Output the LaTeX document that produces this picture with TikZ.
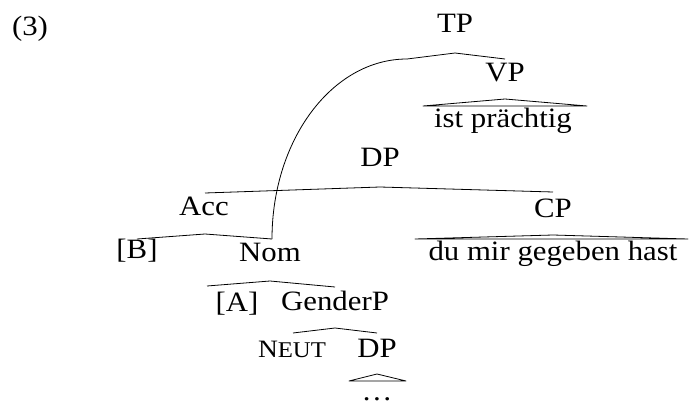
\documentclass[tikz,border=0pt]{standalone}
\usepackage{fontspec}
\setmainfont[FakeStretch=1.1]{Liberation Serif}
\begin{document}
\begin{tikzpicture}[x=1pt,y=-1pt,
  lbl/.style={anchor=base,inner sep=0pt,font=\fontsize{28}{32}\selectfont},
  branch/.style={line width=0.8pt,line join=round},
  roof/.style={line width=0.8pt,line join=round},
]
\useasboundingbox (0,0) rectangle (689,404);

% labels
\node[lbl] (ex)    at (30,36)   {(3)};
\node[lbl] (tp)    at (455,33)  {TP};
\node[lbl] (vp)    at (505,82)  {VP};
\node[lbl] (vpt)   at (503,128) {ist prächtig};
\node[lbl] (dp)    at (380,167) {DP};
\node[lbl] (acc)   at (204,215) {Acc};
\node[lbl] (cp)    at (553,217) {CP};
\node[lbl] (cpt)   at (553,260) {du mir gegeben hast};
\node[lbl] (b)     at (137,258) {[B]};
\node[lbl] (nom)   at (270,261) {Nom};
\node[lbl] (a)     at (237,311) {[A]};
\node[lbl] (gen)   at (335,310) {GenderP};
\node[lbl] (neut)  at (292,357) {{\fontsize{25}{30}\selectfont N}{\fontsize{22.5}{27}\selectfont EUT}};
\node[lbl] (dp2)   at (377,357) {DP};
\node[lbl] (dots)  at (377,400) {…};

% branch points
\coordinate (tp-a)  at (455,53);
\coordinate (tp-l)  at (407,59);
\coordinate (tp-r)  at (505,59);
\coordinate (dp-a)  at (380,187);
\coordinate (dp-l)  at (205,193);
\coordinate (dp-r)  at (553,192);
\coordinate (acc-a) at (205,234);
\coordinate (acc-l) at (137,239);
\coordinate (acc-r) at (272,239);
\coordinate (nom-a) at (270,281);
\coordinate (nom-l) at (207,286);
\coordinate (nom-r) at (335,287);
\coordinate (gen-a) at (335,328);
\coordinate (gen-l) at (293,333);
\coordinate (gen-r) at (377,333);

% roof corners
\coordinate (vp-a)  at (505,99);
\coordinate (vp-l)  at (423,106);
\coordinate (vp-r)  at (587,106);
\coordinate (cp-a)  at (553,235);
\coordinate (cp-l)  at (415,239);
\coordinate (cp-r)  at (688,239);
\coordinate (dp2-a) at (377,374);
\coordinate (dp2-l) at (349,381);
\coordinate (dp2-r) at (406,381);

% branches
\draw[branch] (tp-l) -- (tp-a) -- (tp-r);
\draw[branch] (dp-l) -- (dp-a) -- (dp-r);
\draw[branch] (acc-l) -- (acc-a) -- (acc-r);
\draw[branch] (nom-l) -- (nom-a) -- (nom-r);
\draw[branch] (gen-l) -- (gen-a) -- (gen-r);

% movement arc from the left branch of TP down to Nom
\draw[branch] (tp-l) .. controls +(-74.6,0) and +(0,-99.4) .. (acc-r);

% roofs
\draw[roof] (vp-l) -- (vp-a) -- (vp-r) -- cycle;
\draw[roof] (cp-l) -- (cp-a) -- (cp-r) -- cycle;
\draw[roof] (dp2-l) -- (dp2-a) -- (dp2-r) -- cycle;
\end{tikzpicture}
\end{document}
